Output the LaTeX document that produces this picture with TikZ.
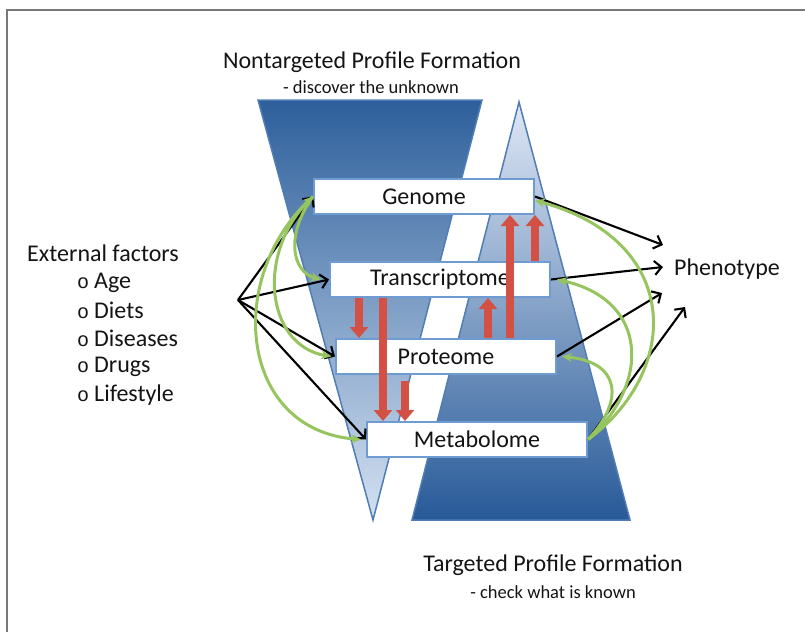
\documentclass[tikz,border=0pt]{standalone}
\usepackage{fontspec}
\setmainfont{Carlito}
\newfontfamily\courfont{Liberation Mono}
\usetikzlibrary{arrows.meta,calc}
\definecolor{darkblue}{RGB}{45,95,155}
\definecolor{midblueL}{RGB}{125,162,208}
\definecolor{lightblueL}{RGB}{212,225,242}
\definecolor{lightblueR}{RGB}{222,231,245}
\definecolor{midblueR}{RGB}{165,192,224}
\definecolor{darkblueR}{RGB}{40,90,152}
\definecolor{edgeblue}{RGB}{80,125,180}
\definecolor{boxblue}{RGB}{110,155,210}
\definecolor{redarr}{RGB}{210,80,68}
\definecolor{greenarr}{RGB}{150,196,95}
\definecolor{framegray}{RGB}{120,120,120}
\definecolor{txt}{RGB}{20,20,20}
\begin{document}
\begin{tikzpicture}[x=1pt,y=-1pt,
  bigtxt/.style={inner sep=0pt, text=txt, font=\fontsize{24}{28}\selectfont},
  subtxt/.style={inner sep=0pt, text=txt, font=\fontsize{18.5}{22}\selectfont},
  omicbox/.style={draw=boxblue, line width=2pt, fill=white, minimum width=220pt, minimum height=35pt, inner sep=0pt, text=txt, font=\fontsize{24}{28}\selectfont},
  redarrow/.style={draw=redarr, line width=8pt, -{Triangle[width=18pt,length=11pt]}},
  blackarr/.style={draw=black, line width=2.1pt, -{Straight Barb[length=7pt,width=14pt]}},
  greenarr/.style={draw=greenarr, line width=3pt, -{Stealth[length=10pt,width=9pt]}},
  greenboth/.style={draw=greenarr, line width=3pt, {Stealth[length=10pt,width=9pt]}-{Stealth[length=10pt,width=9pt]}},
  tri/.style={draw=edgeblue, line width=1.5pt, line join=miter}
]
\useasboundingbox (0,0) rectangle (805,632);
% frame
\draw[framegray, line width=1.5pt] (7,632) -- (7,10) -- (805,10);
% funnels
\shade[top color=darkblue, middle color=midblueL, bottom color=lightblueL] (258,100) -- (482,100) -- (373,520) -- cycle;
\draw[tri] (258,100) -- (482,100) -- (373,520) -- cycle;
\shade[top color=lightblueR, middle color=midblueR, bottom color=darkblueR] (519,102) -- (630,520) -- (412,520) -- cycle;
\draw[tri] (519,102) -- (630,520) -- (412,520) -- cycle;
% titles
\node[bigtxt] (ntitle) at (372,62) {Nontargeted Profile Formation};
\node[subtxt] (nsub) at (371,87) {- discover the unknown};
\node[bigtxt] (ttitle) at (553,565) {Targeted Profile Formation};
\node[subtxt] (tsub) at (553,592) {- check what is known};
% external factors
\node[bigtxt, anchor=west] (ext) at (27,253) {External factors};
\node[bigtxt, anchor=west] (age) at (77,283) {{\fontsize{20}{24}\courfont o}\hspace{5pt}Age};
\node[bigtxt, anchor=west] (diets) at (77,310) {{\fontsize{20}{24}\courfont o}\hspace{5pt}Diets};
\node[bigtxt, anchor=west] (dis) at (77,338) {{\fontsize{20}{24}\courfont o}\hspace{5pt}Diseases};
\node[bigtxt, anchor=west] (drugs) at (77,367) {{\fontsize{20}{24}\courfont o}\hspace{5pt}Drugs};
\node[bigtxt, anchor=west] (life) at (77,395) {{\fontsize{20}{24}\courfont o}\hspace{5pt}Lifestyle};
\node[bigtxt, anchor=west] (pheno) at (674,269) {Phenotype};
% boxes
\node[omicbox] (gen) at (424,196.5) {Genome};
\node[omicbox] (trans) at (440,279.5) {Transcriptome};
\node[omicbox] (prot) at (446,356.5) {Proteome};
\node[omicbox] (met) at (477,439.5) {Metabolome};
% red arrows
\coordinate (xA) at (359,0);
\coordinate (xB) at (383,0);
\coordinate (xC) at (405,0);
\coordinate (xD) at (488,0);
\coordinate (xE) at (510,0);
\coordinate (xF) at (535,0);
\draw[redarrow] (trans.south -| xA) -- (prot.north -| xA);
\draw[redarrow] (trans.south -| xB) -- (met.north -| xB);
\draw[redarrow, shorten <=6pt] (prot.south -| xC) -- (met.north -| xC);
\draw[redarrow] (prot.north -| xD) -- (trans.south -| xD);
\draw[redarrow] (prot.north -| xE) -- (gen.south -| xE);
\draw[redarrow] (trans.north -| xF) -- (gen.south -| xF);
% left connectors
\coordinate (hub) at (238,300);
\draw[blackarr] (hub) -- (gen.west);
\draw[blackarr] (hub) -- (trans.west);
\draw[blackarr] (hub) -- (prot.west);
\draw[blackarr] (hub) -- (met.west);
\draw[greenarr] (gen.west) .. controls (285,235) and (292,272) .. ([xshift=-8pt]trans.west);
\draw[greenarr] (gen.west) .. controls (255,250) and (265,345) .. ([xshift=-4pt]prot.west);
\draw[greenboth] (gen.west) .. controls (225,280) and (240,430) .. ([xshift=-5pt]met.west);
% right connectors
\coordinate (ph1) at (663,245);
\coordinate (ph2) at (663,267);
\coordinate (ph3) at (662,293);
\coordinate (ph4) at (685,307);
\draw[blackarr] (gen.east) -- (ph1);
\draw[blackarr] (trans.east) -- (ph2);
\draw[blackarr] (prot.east) -- (ph3);
\draw[blackarr] (met.east) -- (ph4);
\draw[greenarr] (met.east) .. controls (682,370) and (682,240) .. ([yshift=-4pt]gen.east);
\draw[greenarr] (met.east) .. controls (650,385) and (650,300) .. ([xshift=6pt]trans.east);
\draw[greenarr] (met.east) .. controls (625,400) and (620,362) .. ([xshift=5pt]prot.east);
\end{tikzpicture}
\end{document}
